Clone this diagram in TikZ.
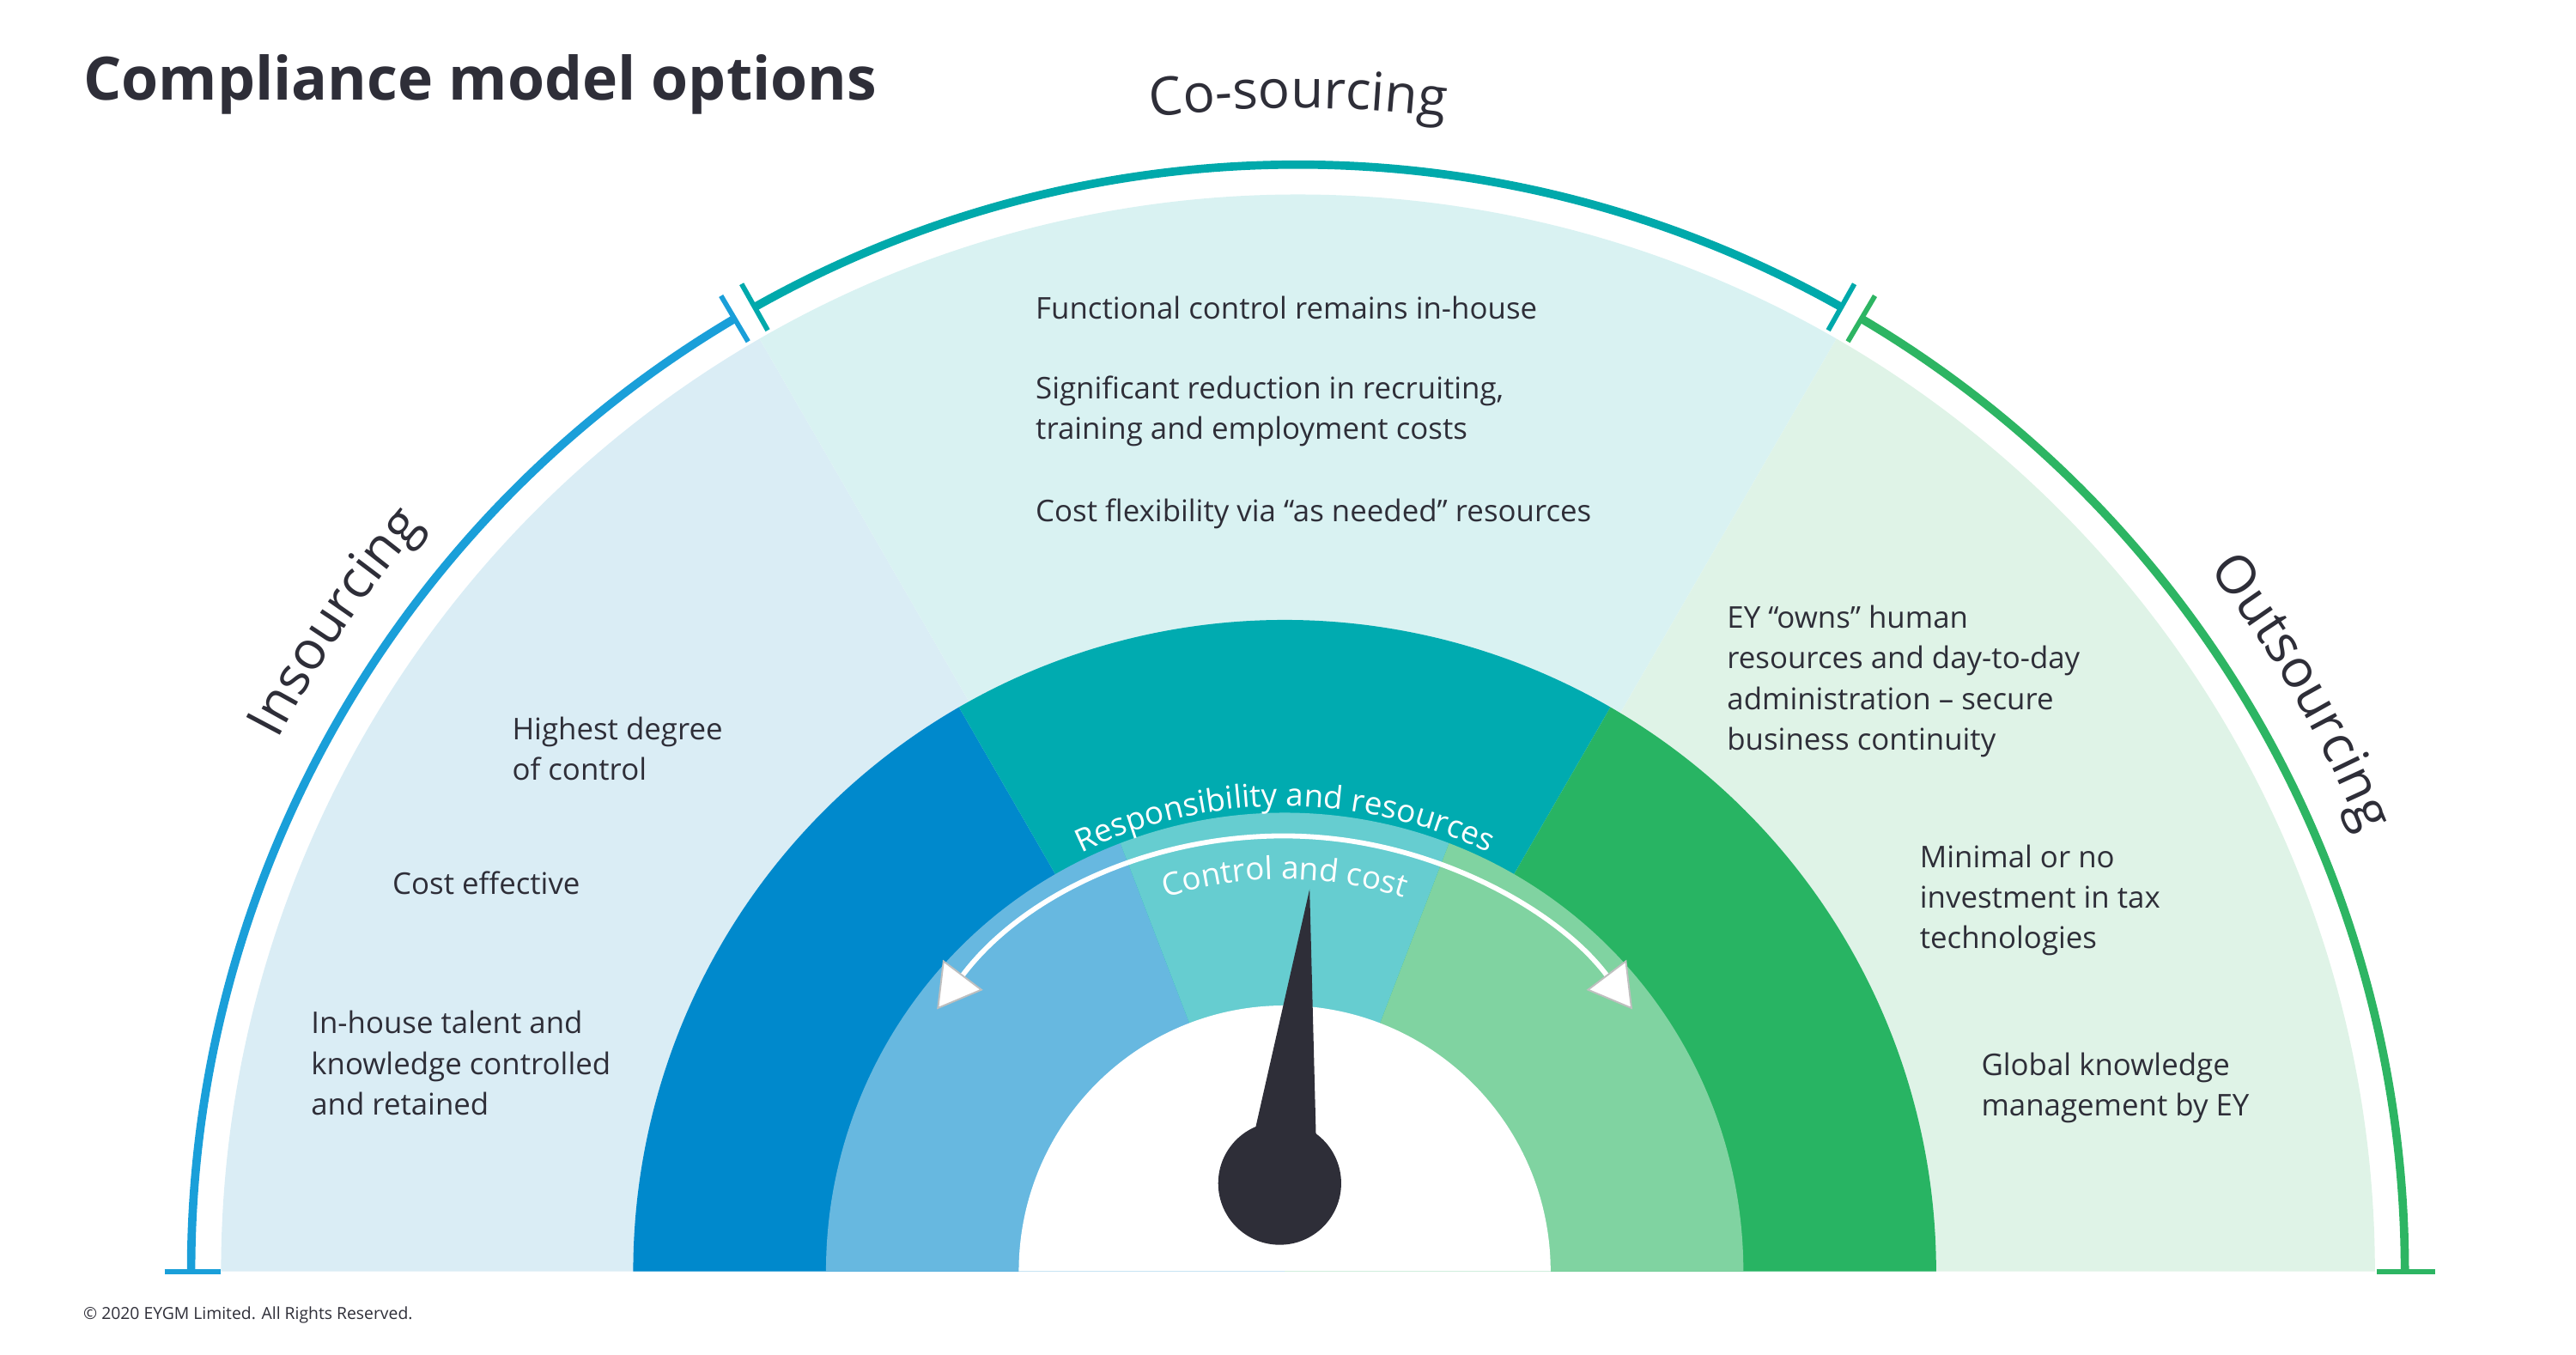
\documentclass[tikz,border=0pt]{standalone}
\usepackage{fontspec}
\setmainfont{Open Sans}
\usetikzlibrary{decorations.text,arrows.meta}
\definecolor{arcB}{HTML}{1A9FD9}
\definecolor{arcT}{HTML}{00A9AB}
\definecolor{arcG}{HTML}{2DB563}
\definecolor{paleB}{HTML}{DAEDF5}
\definecolor{paleT}{HTML}{D9F2F2}
\definecolor{paleG}{HTML}{DFF3E7}
\definecolor{darkB}{HTML}{0089CC}
\definecolor{darkT}{HTML}{00ABB0}
\definecolor{darkG}{HTML}{28B463}
\definecolor{lightB}{HTML}{67B8E0}
\definecolor{lightT}{HTML}{66CDD0}
\definecolor{lightG}{HTML}{80D3A1}
\definecolor{ink}{HTML}{2E2E38}
\tikzset{wtip/.tip={Triangle[length=26pt,width=30pt,fill=white,color=black!25,line width=1pt]}}
\begin{document}
\begin{tikzpicture}[x=1pt,y=1pt,
  body/.style={font=\fontsize{18}{24.5}\selectfont, text=ink, align=left, anchor=north west, inner sep=0pt},
  outer/.style={line width=5pt},
  lbl/.style={decorate, decoration={text along path, text align=center, text color=ink}},
  wlbl/.style={decorate, decoration={text along path, text align=center, text color=white}}]
\useasboundingbox (0,0) rectangle (1550,815);
\coordinate (C) at (773,50);
\coordinate (O) at (781,50);
% pale sectors
\fill[paleB] (O) -- ++(180:648) arc[start angle=180,end angle=120,radius=648] -- cycle;
\fill[paleT] (O) -- ++(120:648) arc[start angle=120,end angle=60,radius=648] -- cycle;
\fill[paleG] (O) -- ++(60:648) arc[start angle=60,end angle=0,radius=648] -- cycle;
% outer arcs
\draw[outer,arcB] (O) ++(180:666) arc[start angle=180,end angle=120.6,radius=666];
\draw[outer,arcT] (O) ++(119.4:666) arc[start angle=119.4,end angle=60.6,radius=666];
\draw[outer,arcG] (O) ++(59.4:666) arc[start angle=59.4,end angle=0,radius=666];
\draw[line width=3pt,arcB] (O) ++(120.6:650) -- ++(120.6:32);
\draw[line width=3pt,arcT] (O) ++(119.4:650) -- ++(119.4:32);
\draw[line width=3pt,arcT] (O) ++(60.6:650) -- ++(60.6:32);
\draw[line width=3pt,arcG] (O) ++(59.4:650) -- ++(59.4:32);
\draw[line width=3pt,arcB] (99,50) -- (133,50);
\draw[line width=3pt,arcG] (1430,50) -- (1465,50);
% gauge bands
\fill[darkB] (C) -- ++(180:392) arc[start angle=180,end angle=120,radius=392] -- cycle;
\fill[darkT] (C) -- ++(120:392) arc[start angle=120,end angle=60,radius=392] -- cycle;
\fill[darkG] (C) -- ++(60:392) arc[start angle=60,end angle=0,radius=392] -- cycle;
\fill[lightB] (C) -- ++(180:276) arc[start angle=180,end angle=111,radius=276] -- cycle;
\fill[lightT] (C) -- ++(111:276) arc[start angle=111,end angle=69,radius=276] -- cycle;
\fill[lightG] (C) -- ++(69:276) arc[start angle=69,end angle=0,radius=276] -- cycle;
\fill[white] (C) -- ++(180:160) arc[start angle=180,end angle=0,radius=160] -- cycle;
% white double arrow arc
\draw[white,line width=3pt,wtip-wtip]
  (C) ++(143:262) arc[start angle=143,end angle=37,radius=262];
% curved labels
\path[wlbl, decoration={text={|\fontsize{19}{19}\selectfont|Responsibility and resources}}]
  (C) ++(125:280) arc[start angle=125,end angle=55,radius=280];
\path[wlbl, decoration={text={|\fontsize{19}{19}\selectfont|Control and cost}}]
  (C) ++(110:236) arc[start angle=110,end angle=70,radius=236];
\path[lbl, decoration={text={|\fontsize{32}{32}\selectfont|Co-sourcing}}]
  (O) ++(100:700) arc[start angle=100,end angle=80,radius=700];
\path[lbl, decoration={text={|\fontsize{32}{32}\selectfont|Insourcing}}]
  (O) ++(158:692) arc[start angle=158,end angle=134,radius=692];
\path[lbl, decoration={text={|\fontsize{32}{32}\selectfont|Outsourcing}}]
  (O) ++(44:692) arc[start angle=44,end angle=16,radius=692];
% needle
\node[circle, fill=ink, minimum size=74pt, inner sep=0pt] (hub) at (770,103) {};
\fill[ink] (754,130) -- (788,280) -- (792,125) -- cycle;
% texts
\node[font=\fontsize{36}{36}\selectfont\bfseries, text=ink, anchor=base west, inner sep=0pt] (title) at (50,755) {Compliance model options};
\node[body] (t1) at (623,637) {Functional control remains in-house};
\node[body] (t2) at (623,589) {Significant reduction in recruiting,\\training and employment costs};
\node[body] (t3) at (623,515) {Cost flexibility via “as needed” resources};
\node[body] (t4) at (308,384) {Highest degree\\of control};
\node[body] (t5) at (236,291) {Cost effective};
\node[body] (t6) at (187,207) {In-house talent and\\knowledge controlled\\and retained};
\node[body] (t7) at (1039,451) {EY “owns” human\\resources and day-to-day\\administration – secure\\business continuity};
\node[body] (t8) at (1155,307) {Minimal or no\\investment in tax\\technologies};
\node[body] (t9) at (1192,182) {Global knowledge\\management by EY};
\node[font=\fontsize{10}{10}\selectfont, text=ink, anchor=base west, inner sep=0pt] (copy) at (50,21) {© 2020 EYGM Limited. All Rights Reserved.};
\end{tikzpicture}
\end{document}
